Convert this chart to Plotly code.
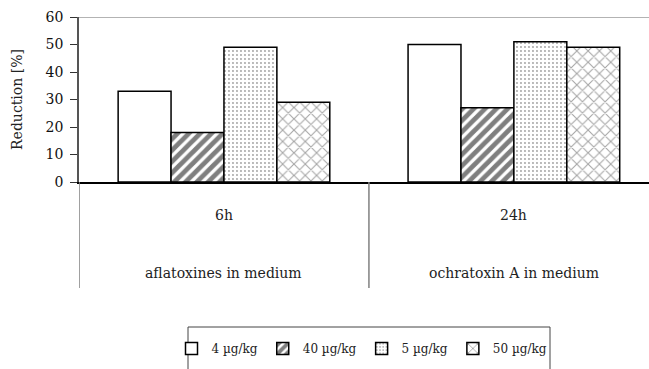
import plotly.graph_objects as go

# Categories (time points) and the matrix each belongs to
times = ["6h", "24h"]
media = ["aflatoxines in medium", "ochratoxin A in medium"]

# Reduction [%] per concentration
dose_names = ["4 µg/kg", "40 µg/kg", "5 µg/kg", "50 µg/kg"]
red_4 = [33, 50]
red_40 = [18, 27]
red_5 = [49, 51]
red_50 = [29, 49]

y_ticks = [0, 10, 20, 30, 40, 50, 60]

FONT = "DejaVu Serif, serif"
FS = 14
W, H = 649, 369
ML, MR, MT, MB = 79, 0, 17, 187
PW, PH = W - ML - MR, H - MT - MB


def py(px):
    """Pixel row -> paper y."""
    return (H - MB - px) / PH


def pxx(px):
    """Pixel column -> paper x."""
    return (px - ML) / PW


series = [red_4, red_40, red_5, red_50]
patterns = [
    dict(shape=""),
    dict(shape="/", fgcolor="#000000", bgcolor="white", size=8, solidity=0.6),
    dict(shape=".", fgcolor="#444444", bgcolor="white", size=4, solidity=0.18),
    dict(shape="x", fgcolor="#4a4a4a", bgcolor="white", size=8, solidity=0.25),
]

fig = go.Figure()
for name, vals, pat in zip(dose_names, series, patterns):
    fig.add_trace(go.Bar(
        x=times, y=vals, name=name,
        marker=dict(color="white", line=dict(color="black", width=1.5), pattern=pat),
    ))

# grey frame line along the top of the plotting area
fig.add_shape(type="line", xref="paper", yref="y", x0=0, x1=1, y0=60, y1=60,
              line=dict(color="#9a9a9a", width=1.5))

# group dividers under the category axis
for xv in [-0.5, 0.5]:
    fig.add_shape(type="line", xref="x", yref="paper", x0=xv, x1=xv,
                  y0=0, y1=py(288), line=dict(color="#808080", width=1.5))

# category labels: time (inner) and medium (outer)
for i, (t, m) in enumerate(zip(times, media)):
    fig.add_annotation(x=i, y=py(215), xref="x", yref="paper", text=t,
                       showarrow=False, yanchor="middle",
                       font=dict(family=FONT, size=FS, color="#222"))
    fig.add_annotation(x=i, y=py(273), xref="x", yref="paper", text=m,
                       showarrow=False, yanchor="middle",
                       font=dict(family=FONT, size=FS, color="#222"))

# legend frame (runs off the bottom edge)
fig.add_shape(type="rect", xref="paper", yref="paper",
              x0=pxx(188), x1=pxx(550), y0=py(327), y1=py(400),
              line=dict(color="#444", width=1))

fig.update_layout(
    width=W, height=H,
    margin=dict(l=ML, r=MR, t=MT, b=MB, pad=0),
    paper_bgcolor="white", plot_bgcolor="white",
    barmode="group", bargap=0.27, bargroupgap=0,
    font=dict(family=FONT, size=FS, color="#222"),
    showlegend=True,
    legend=dict(orientation="h", x=pxx(362), xanchor="center",
                y=py(334), yanchor="top",
                bgcolor="rgba(0,0,0,0)", borderwidth=0,
                font=dict(family=FONT, size=12, color="#222"),
                itemwidth=30, traceorder="normal"),
    xaxis=dict(type="category", range=[-0.5, 1.466], showticklabels=False,
               showline=True, linecolor="black", linewidth=1.5,
               ticks="", showgrid=False, zeroline=False, fixedrange=True),
    yaxis=dict(range=[0, 60], tickvals=y_ticks, showgrid=False, zeroline=False,
               showline=True, linecolor="#555", linewidth=1.5,
               ticks="outside", ticklen=7, tickcolor="#333", tickwidth=1,
               ticklabelstandoff=4, tickfont=dict(color="#111"),
               title=dict(text="Reduction [%]", standoff=20,
                          font=dict(family=FONT, size=FS, color="#222")),
               automargin=False, fixedrange=True),
)

fig.write_html("out.html")
